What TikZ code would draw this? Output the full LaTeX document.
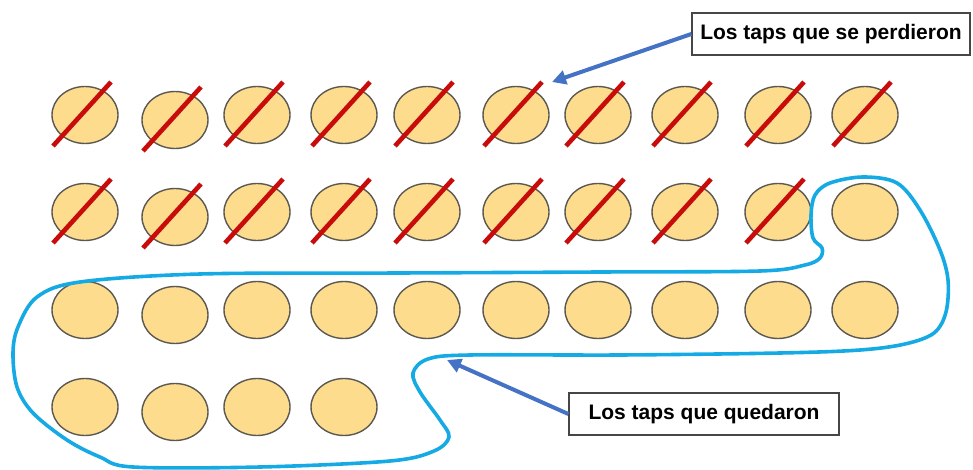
\documentclass[tikz,border=0pt]{standalone}
\usepackage{fontspec}
\setmainfont{Liberation Sans}
\usetikzlibrary{shapes.geometric,arrows.meta,calc}
\definecolor{tapfill}{RGB}{253,220,142}
\definecolor{tapline}{RGB}{90,88,80}
\definecolor{slashred}{RGB}{200,12,12}
\definecolor{arrowblue}{RGB}{68,114,196}
\definecolor{blobblue}{RGB}{22,170,228}
\definecolor{boxline}{RGB}{70,70,70}
\begin{document}
\begin{tikzpicture}[x=1pt,y=-1pt,
  tap/.style={ellipse,draw=tapline,fill=tapfill,line width=1.4pt,minimum width=66pt,minimum height=57pt,inner sep=0pt},
  slash/.style={draw=slashred,line width=4.6pt},
  callout/.style={draw=boxline,fill=white,line width=1.3pt,font=\bfseries\fontsize{21}{24}\selectfont,minimum height=42pt,inner sep=0pt},
  pointer/.style={draw=arrowblue,line width=4pt,-{Triangle[length=14pt,width=14pt]}},
  blob/.style={draw=blobblue,line width=3.6pt}]
\useasboundingbox (0,0) rectangle (973,470);
\foreach \r/\yy/\n/\s in {1/115/10/10, 2/212/10/9, 3/310/10/0, 4/407/4/0} {
  \foreach \xx [count=\i] in {85,175,257,344,427,516,598,685,778,865} {
    \ifnum\i>\n\relax\else
      \pgfmathtruncatemacro\dy{\i==2 ? 5 : 0}
      \node[tap] (t\r-\i) at (\xx,\yy+\dy) {};
      \ifnum\i>\s\relax\else
        \draw[slash] ([shift={(-32,31)}]t\r-\i.center) -- ([shift={(26,-33)}]t\r-\i.center);
      \fi
    \fi
  }
}
\draw[blob] plot[smooth cycle, tension=0.55] coordinates {
  (830,183) (863,177) (897,183) (920,210) (940,250) (948,280) (946,312) (934,333)
  (905,344) (860,350) (780,353) (620,355) (470,355) (428,359) (413,373) (420,392)
  (440,420) (449,437) (434,451) (390,461) (260,467) (133,467) (100,457) (67,440)
  (33,413) (17,387) (13,353) (18,327) (37,297) (80,282) (200,274) (400,273)
  (600,272) (760,271) (805,265) (820,258) (822,248) (813,238) (811,215) (815,195)};
\node[callout,minimum width=278pt] (lost) at (831,34) {Los taps que se perdieron};
\node[callout,minimum width=270pt] (kept) at (704,414) {Los taps que quedaron};
\coordinate (p1) at (552,82);
\coordinate (p2) at (447,360);
\draw[pointer] (lost.west) -- (p1);
\draw[pointer] (kept.west) -- (p2);
\end{tikzpicture}
\end{document}
